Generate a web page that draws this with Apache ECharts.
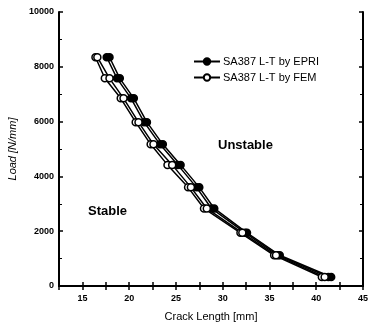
<!DOCTYPE html>
<html>
<head>
<meta charset="utf-8">
<script src="https://cdn.jsdelivr.net/npm/echarts@6/dist/echarts.min.js"></script>
<style>
    html, body { margin: 0; padding: 0; background: #fff; }
    #main { width: 371px; height: 324px; }
</style>
</head>
<body>
<div id="main"></div>
<script type="text/javascript">
    // load levels [N/mm] and crack lengths [mm]
    var loads = [8350, 7580, 6850, 5980, 5170, 4420, 3600, 2830, 1940, 1120, 330];
    var femA  = [16.4, 17.4, 19.1, 20.7, 22.3, 24.1, 26.3, 28.0, 31.9, 35.5, 40.6];
    var femB  = [16.6, 17.9, 19.4, 21.0, 22.6, 24.6, 26.6, 28.3, 32.1, 35.7, 40.9];
    var epriA = [17.6, 18.7, 20.2, 21.6, 23.3, 25.2, 27.2, 28.8, 32.4, 35.9, 41.3];
    var epriB = [17.9, 19.0, 20.5, 21.9, 23.6, 25.5, 27.5, 29.1, 32.6, 36.1, 41.6];
    var xTicks = [15, 20, 25, 30, 35, 40, 45];

    function pairs(xs) {
        return xs.map(function (x, i) { return [x, loads[i]]; });
    }

    var font = 'Liberation Sans, Arial, sans-serif';
    var myChart = echarts.init(document.getElementById('main'));

    function line(name, xs, filled) {
        return {
            name: name,
            type: 'line',
            data: pairs(xs),
            symbol: 'circle',
            symbolSize: 7,
            lineStyle: { color: '#000', width: 1.5 },
            itemStyle: {
                color: filled ? '#000' : '#fff',
                borderColor: '#000',
                borderWidth: 1.5
            },
            emphasis: { disabled: true },
            animation: false
        };
    }

    var axisCommon = {
        axisLine: { lineStyle: { color: '#000', width: 2 } },
        axisTick: { inside: true, length: 4, lineStyle: { color: '#000', width: 1.5 } },
        splitLine: { show: false }
    };

    option = {
        animation: false,
        grid: { left: 59, right: 8, top: 12, bottom: 38, outerBoundsMode: 'none' },
        legend: {
            orient: 'vertical',
            left: 188,
            top: 51,
            itemWidth: 26,
            itemHeight: 8,
            itemGap: 5,
            data: ['SA387 L-T by EPRI', 'SA387 L-T by FEM'],
            textStyle: { fontFamily: font, fontSize: 11, color: '#000', padding: [0, 0, 0, -2] }
        },
        xAxis: [
            Object.assign({
                type: 'value', min: 12.5, max: 45, interval: 2.5,
                name: 'Crack Length [mm]', nameLocation: 'middle', nameGap: 25,
                nameTextStyle: { fontFamily: font, fontSize: 11, color: '#000' },
                axisLabel: {
                    fontFamily: font, fontSize: 9, fontWeight: 'bold', color: '#000', margin: 8,
                    formatter: function (v) { return xTicks.indexOf(v) >= 0 ? String(v) : ''; }
                }
            }, axisCommon),
            Object.assign({
                type: 'value', min: 12.5, max: 45, interval: 2.5, position: 'top',
                axisLabel: { show: false }
            }, axisCommon)
        ],
        yAxis: [
            Object.assign({
                type: 'value', min: 0, max: 10000, interval: 2000,
                name: 'Load [N/mm]', nameLocation: 'middle', nameGap: 41,
                nameTextStyle: { fontFamily: font, fontSize: 11, fontStyle: 'italic', color: '#000' },
                minorTick: { show: true, splitNumber: 2, length: 3, lineStyle: { color: '#000' } },
                axisLabel: {
                    fontFamily: font, fontSize: 9, fontWeight: 'bold', color: '#000', margin: 5,
                    formatter: function (v) { return String(v); }
                }
            }, axisCommon),
            Object.assign({
                type: 'value', min: 0, max: 10000, interval: 2000, position: 'right',
                minorTick: { show: true, splitNumber: 2, length: 3, lineStyle: { color: '#000' } },
                axisLabel: { show: false }
            }, axisCommon)
        ],
        graphic: [
            { type: 'text', left: 218, top: 139, style: { text: 'Unstable', font: 'bold 13px ' + font, fill: '#000' } },
            { type: 'text', left: 88, top: 205, style: { text: 'Stable', font: 'bold 13px ' + font, fill: '#000' } }
        ],
        series: [
            line('SA387 L-T by EPRI', epriA, true),
            line('SA387 L-T by EPRI', epriB, true),
            line('SA387 L-T by FEM', femA, false),
            line('SA387 L-T by FEM', femB, false)
        ]
    };

    myChart.setOption(option);
</script>
</body>
</html>
